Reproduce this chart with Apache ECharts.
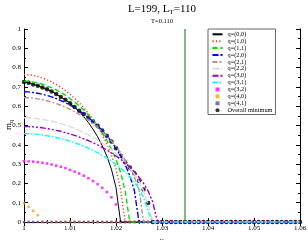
<!DOCTYPE html>
<html><head><meta charset="utf-8">
<script src="https://cdn.jsdelivr.net/npm/echarts@6/dist/echarts.min.js"></script>
<style>html,body{margin:0;padding:0;background:#fff}#c{width:308px;height:240px}</style>
</head><body><div id="c"></div>
<script>
const mu = [1.000,1.001,1.002,1.003,1.004,1.005,1.006,1.007,1.008,1.009,
  1.010,1.011,1.012,1.013,1.014,1.015,1.016,1.017,1.018,1.019,
  1.020,1.021,1.022,1.023,1.024,1.025,1.026,1.027,1.028,1.029,
  1.030,1.031,1.032,1.033,1.034,1.035,1.036,1.037,1.038,1.039,
  1.040,1.041,1.042,1.043,1.044,1.045,1.046,1.047,1.048,1.049,
  1.050,1.051,1.052,1.053,1.054,1.055,1.056,1.057,1.058,1.059,1.060];
const Z = n => new Array(n).fill(0);
const q00 = [0.726,0.721,0.713,0.706,0.697,0.688,0.676,0.663,0.648,0.633,0.615,0.596,0.573,0.546,0.515,0.481,0.442,0.396,0.342,0.274,0.178].concat(Z(40));
const q10 = [0.765,0.763,0.760,0.754,0.746,0.737,0.726,0.713,0.698,0.681,0.662,0.641,0.618,0.592,0.563,0.531,0.494,0.453,0.405,0.347,0.275,0.170].concat(Z(39));
const q11 = [0.730,0.729,0.725,0.720,0.714,0.705,0.696,0.684,0.671,0.657,0.640,0.622,0.602,0.580,0.555,0.527,0.497,0.462,0.423,0.378,0.324,0.257,0.159].concat(Z(38));
const q20 = [0.675,0.674,0.671,0.667,0.662,0.656,0.648,0.640,0.629,0.618,0.606,0.592,0.576,0.560,0.541,0.521,0.499,0.474,0.447,0.417,0.382,0.343,0.297,0.240,0.162].concat(Z(36));
const q21 = [0.645,0.644,0.642,0.638,0.634,0.628,0.621,0.613,0.605,0.595,0.584,0.571,0.558,0.543,0.527,0.509,0.490,0.469,0.445,0.420,0.391,0.359,0.322,0.279,0.232,0.170].concat(Z(35));
const q22 = [0.540,0.539,0.538,0.535,0.531,0.527,0.522,0.516,0.510,0.502,0.494,0.485,0.475,0.464,0.452,0.439,0.425,0.410,0.393,0.375,0.355,0.333,0.309,0.281,0.249,0.211,0.162,0.087].concat(Z(33));
const q30 = [0.495,0.494,0.493,0.491,0.488,0.484,0.480,0.475,0.470,0.463,0.456,0.449,0.440,0.431,0.422,0.411,0.399,0.387,0.373,0.358,0.342,0.325,0.305,0.284,0.260,0.232,0.200,0.160,0.103].concat(Z(32));
const q31 = [0.458,0.457,0.456,0.454,0.451,0.447,0.443,0.438,0.432,0.426,0.419,0.411,0.402,0.393,0.383,0.371,0.359,0.346,0.332,0.316,0.299,0.279,0.258,0.234,0.206,0.172,0.128,0.053].concat(Z(33));
const q32 = [0.315,0.314,0.313,0.310,0.307,0.303,0.298,0.292,0.286,0.279,0.270,0.261,0.251,0.240,0.227,0.212,0.196,0.177,0.155,0.128,0.091].concat(Z(40));
const q40 = [0.097,0.079,0.058,0.035].concat(Z(57));
const q41 = Z(61);
const overall = [0.726,0.721,0.713,0.706,0.697,0.688,0.676,0.663,0.648,0.633,0.615,0.596,0.576,0.560,0.541,0.521,0.499,0.474,0.447,0.417,0.382,0.343,0.310,0.282,0.252,0.214,0.168,0.098].concat(Z(33));
const thresholdMu = [1.035, 1.035];
const thresholdM = [0, 1];
const xTicks = {min:1.00, max:1.06, step:0.01};
const yTicks = {min:0, max:1, step:0.1};
const names = ['q=(0,0)','q=(1,0)','q=(1,1)','q=(2,0)','q=(2,1)','q=(2,2)','q=(3,0)','q=(3,1)','q=(3,2)','q=(4,0)','q=(4,1)','Overall minimum'];

const serif = '"Liberation Serif","DejaVu Serif",serif';
const pairs = v => mu.map((x,i)=>[x, v[i]]);
function ln(name, v, color, type, width){
  return {name, type:'line', data:pairs(v), symbol:'none', showSymbol:false,
    lineStyle:{color, width, type}, itemStyle:{color}, animation:false};
}
function sc(name, v, color, symbol, size){
  return {name, type:'scatter', data:pairs(v), symbol, symbolSize:size, symbolKeepAspect:true,
    itemStyle:{color}, animation:false};
}
const SQ = 'path://M0,0H1V1H0Z';
const series = [
  {name:'threshold', type:'line', data:thresholdMu.map((x,i)=>[x, thresholdM[i]]), symbol:'none',
    lineStyle:{color:'#2e8b2e', width:1.2}, animation:false, silent:true},
  ln(names[0], q00, '#000000', 'solid', 1),
  ln(names[1], q10, '#ff3030', [1.2,2.2], 1.4),
  ln(names[2], q11, '#00e000', [5,3], 1.4),
  ln(names[3], q20, '#0000ff', [6,2,2,2], 1.4),
  ln(names[4], q21, '#bc8f8f', [5,2,2,2], 1.4),
  ln(names[5], q22, '#dcdcdc', [7,2], 1.4),
  ln(names[6], q30, '#9400d3', [6,2,2,2,2,2], 1.4),
  ln(names[7], q31, '#00ffff', [5,2,1.5,2], 1.4),
  sc(names[8], q32, '#ff00ff', SQ, 2.5),
  sc(names[9], q40, '#ffa500', SQ, 2.5),
  sc(names[10], q41, '#6a4c9c', SQ, 2.5),
  sc(names[11], overall, '#000000', 'circle', 4.5)
];

const axisCommon = {
  axisLine:{show:true, lineStyle:{color:'#000', width:1}},
  axisTick:{show:true, inside:true, length:4, lineStyle:{color:'#000'}},
  minorTick:{show:true, splitNumber:2, length:2, lineStyle:{color:'#000'}},
  splitLine:{show:false}
};
const lab = {fontFamily:serif, fontSize:7, color:'#000', margin:3};
const legendData = names.map((n,i)=> i < 8
  ? {name:n, itemStyle:{opacity:0}}
  : (i < 11 ? {name:n, icon:SQ} : {name:n, icon:'circle'}));
const option = {
  animation:false,
  backgroundColor:'#fff',
  grid:{left:24, right:8, top:29, bottom:18, containLabel:false, outerBoundsMode:'none'},
  xAxis:[
    Object.assign({type:'value', min:xTicks.min, max:xTicks.max, interval:xTicks.step,
      axisLabel:lab, name:'μ', nameLocation:'middle', nameGap:10,
      nameTextStyle:{fontFamily:serif, fontSize:8, color:'#000'}}, axisCommon),
    Object.assign({type:'value', position:'top', min:xTicks.min, max:xTicks.max, interval:xTicks.step,
      axisLabel:{show:false}}, axisCommon)
  ],
  yAxis:[
    Object.assign({type:'value', min:yTicks.min, max:yTicks.max, interval:yTicks.step,
      axisLabel:Object.assign({}, lab, {margin:3})}, axisCommon),
    Object.assign({type:'value', position:'right', min:yTicks.min, max:yTicks.max, interval:yTicks.step,
      axisLabel:{show:false}}, axisCommon)
  ],
  legend:{orient:'vertical', left:208, top:29, padding:[2.3,3,1.3,3.5],
    itemWidth:10, itemHeight:4, itemGap:0.9, symbolKeepAspect:true,
    borderColor:'#666', borderWidth:1, backgroundColor:'#fff',
    textStyle:{fontFamily:serif, fontSize:6.3, color:'#000', lineHeight:6},
    data:legendData},
  graphic:[
    {type:'text', x:162, y:3, style:{text:'{a|L=199, L}{s|T}{a|=110}', textAlign:'center',
      rich:{a:{fontFamily:serif, fontSize:11, fill:'#000', lineHeight:13},
            s:{fontFamily:serif, fontSize:7, fill:'#000', lineHeight:8, verticalAlign:'bottom'}}}},
    {type:'text', x:162, y:18, style:{text:'T=0.110', textAlign:'center',
      font:'6.5px '+serif, fill:'#000'}},
    {type:'text', x:9, y:125, rotation:Math.PI/2, style:{text:'{m|m}{q|q}', textAlign:'center', textVerticalAlign:'middle',
      rich:{m:{fontFamily:serif, fontSize:9, fill:'#000', lineHeight:10},
            q:{fontFamily:serif, fontSize:6, fill:'#000', lineHeight:6, verticalAlign:'bottom'}}}}
  ],
  series
};
const chart = echarts.init(document.getElementById('c'), null, {renderer:'canvas'});
chart.setOption(option);
</script></body></html>
